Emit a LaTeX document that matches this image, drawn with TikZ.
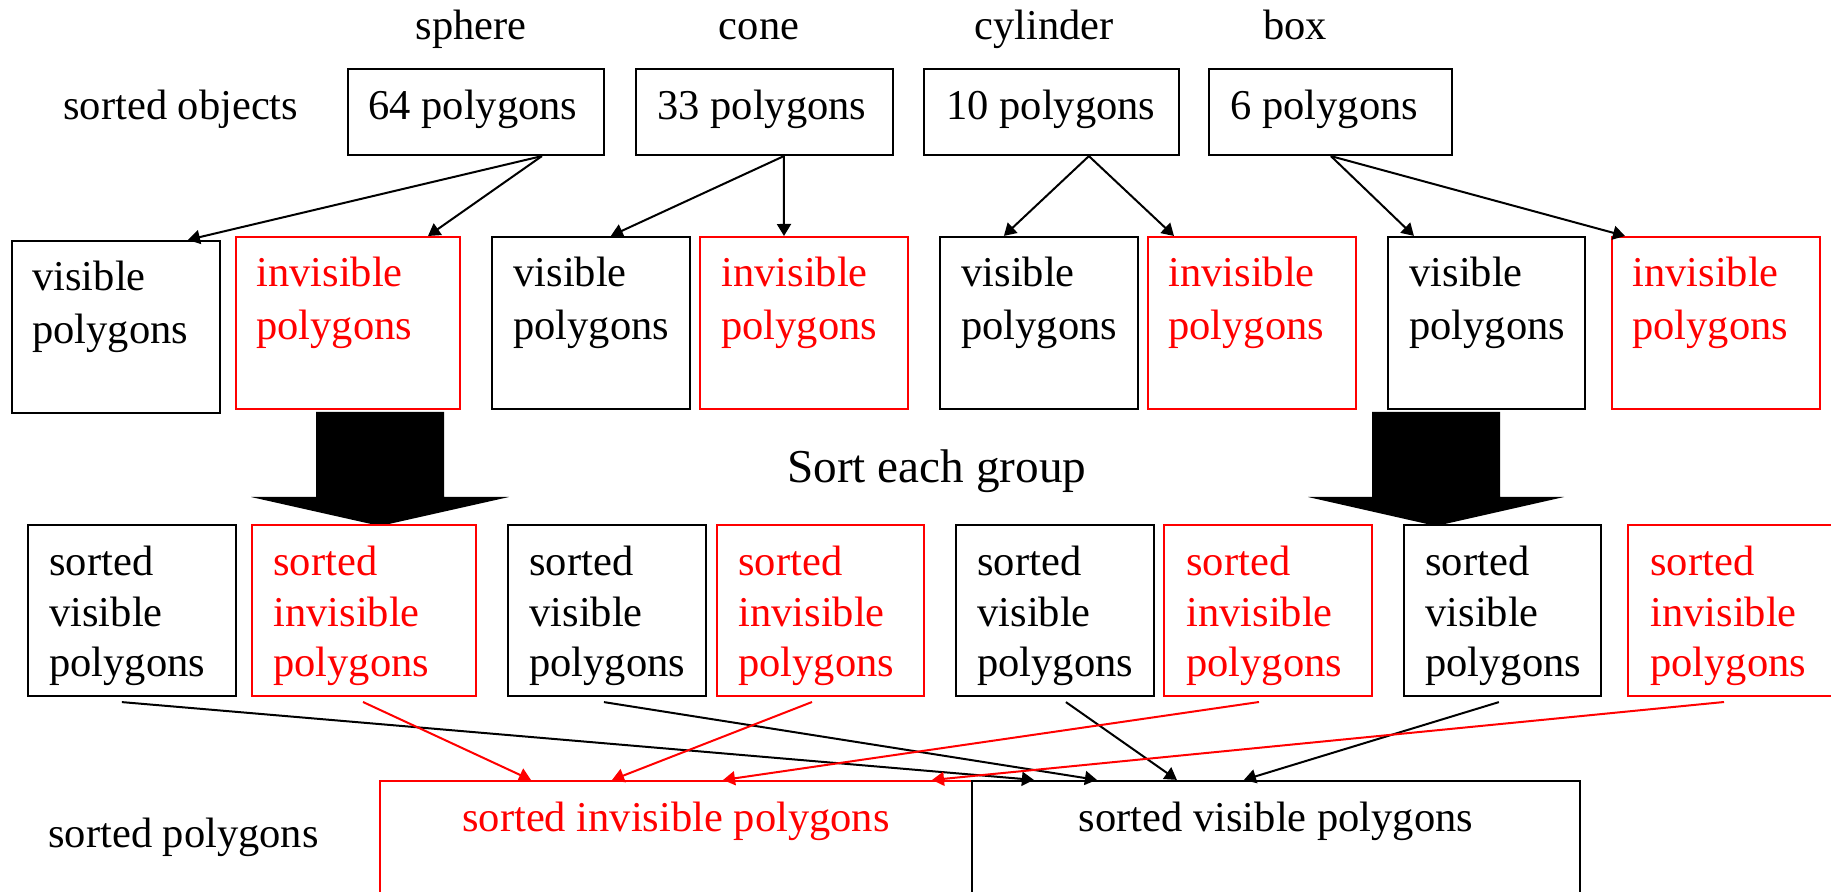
\documentclass[tikz,border=0pt]{standalone}
\usepackage{fontspec}
\setmainfont{Liberation Serif}
\usetikzlibrary{arrows.meta,calc}

% left-aligned stack of lines whose baseline is the first line's
\newcommand\stack[1]{\begin{tabular}[t]{@{}l@{}}#1\end{tabular}}
% empty framed box from (x1,y1) to (x2,y2): style, name, x1, y1, x2, y2
\newcommand\pbox[6]{\node[#1, minimum width={(#5-#3)*0.5pt}, minimum height={(#6-#4)*0.5pt}] (#2) at ({(#3+#5)/2},{(#4+#6)/2}) {};}

\begin{document}
\begin{tikzpicture}[x=0.5pt,y=-0.5pt,
  txt/.style={inner sep=0pt, font=\fontsize{21.25}{26.5}\selectfont},
  redtxt/.style={txt, text=red},
  tighttxt/.style={inner sep=0pt, font=\fontsize{21.25}{25.5}\selectfont},
  redtighttxt/.style={tighttxt, text=red},
  bigtxt/.style={inner sep=0pt, font=\fontsize{23.6}{28}\selectfont},
  blkbox/.style={draw=black, line width=1.1pt, inner sep=0pt},
  redbox/.style={draw=red, line width=1pt, inner sep=0pt},
  conn/.style={line width=1pt, -{Triangle[length=6pt,width=7pt]}},
  rconn/.style={conn, draw=red},
  bigarrow/.style={fill=black, draw=none}]

\useasboundingbox (0,0) rectangle (1831,892);
\clip (0,0) rectangle (1831,892);

% object names
\node[txt, anchor=base] (lsphere) at (471,40) {sphere};
\node[txt, anchor=base] (lcone) at (759,40) {cone};
\node[txt, anchor=base] (lcyl) at (1044,40) {cylinder};
\node[txt, anchor=base] (lbox) at (1295,40) {box};
\node[txt, anchor=base west] (lobj) at (63,120) {sorted objects};

% sorted objects
\pbox{blkbox}{o64}{348}{69}{604}{155}
\pbox{blkbox}{o33}{636}{69}{893}{155}
\pbox{blkbox}{o10}{924}{69}{1179}{155}
\pbox{blkbox}{o6}{1209}{69}{1452}{155}
\node[txt, anchor=base west] (t64) at (368,120) {64 polygons};
\node[txt, anchor=base west] (t33) at (657,120) {33 polygons};
\node[txt, anchor=base west] (t10) at (946,120) {10 polygons};
\node[txt, anchor=base west] (t6) at (1230,120) {6 polygons};

% visible / invisible groups
\pbox{blkbox}{v1}{12}{241}{220}{413}
\pbox{redbox}{i1}{236}{237}{460}{409}
\pbox{blkbox}{v2}{492}{237}{690}{409}
\pbox{redbox}{i2}{700}{237}{908}{409}
\pbox{blkbox}{v3}{940}{237}{1138}{409}
\pbox{redbox}{i3}{1148}{237}{1356}{409}
\pbox{blkbox}{v4}{1388}{237}{1585}{409}
\pbox{redbox}{i4}{1612}{237}{1820}{409}
\node[txt, anchor=base west] (v1t) at (32,291) {\stack{visible\\polygons}};
\node[redtxt, anchor=base west] (i1t) at (256,287) {\stack{invisible\\polygons}};
\node[txt, anchor=base west] (v2t) at (513,287) {\stack{visible\\polygons}};
\node[redtxt, anchor=base west] (i2t) at (721,287) {\stack{invisible\\polygons}};
\node[txt, anchor=base west] (v3t) at (961,287) {\stack{visible\\polygons}};
\node[redtxt, anchor=base west] (i3t) at (1168,287) {\stack{invisible\\polygons}};
\node[txt, anchor=base west] (v4t) at (1409,287) {\stack{visible\\polygons}};
\node[redtxt, anchor=base west] (i4t) at (1632,287) {\stack{invisible\\polygons}};

% splitting each object
\draw[conn] ($(o64.south west)+(195,0)$) -- ($(v1.north west)+(177,0)$);
\draw[conn] ($(o64.south west)+(195,0)$) -- ($(i1.north west)+(193,0)$);
\draw[conn] ($(o33.south west)+(149,0)$) -- ($(v2.north west)+(120,0)$);
\draw[conn] ($(o33.south west)+(149,0)$) -- ($(i2.north west)+(85,0)$);
\draw[conn] ($(o10.south west)+(166,0)$) -- ($(v3.north west)+(65,0)$);
\draw[conn] ($(o10.south west)+(166,0)$) -- ($(i3.north west)+(27,0)$);
\draw[conn] ($(o6.south west)+(123,0)$) -- ($(v4.north west)+(27,0)$);
\draw[conn] ($(o6.south west)+(123,0)$) -- ($(i4.north west)+(14,0)$);

% block arrows
\fill[bigarrow] (316,412) -- (444,412) -- (444,497) -- (509,497) -- (380,526) -- (251,497) -- (316,497) -- cycle;
\fill[bigarrow] (1372,412) -- (1500,412) -- (1500,497) -- (1564,497) -- (1436,526) -- (1308,497) -- (1372,497) -- cycle;
\node[bigtxt, anchor=base west] (sortlbl) at (787,483) {Sort each group};

% sorted groups
\pbox{blkbox}{sv1}{28}{525}{236}{696}
\pbox{redbox}{si1}{252}{525}{476}{696}
\pbox{blkbox}{sv2}{508}{525}{706}{696}
\pbox{redbox}{si2}{717}{525}{924}{696}
\pbox{blkbox}{sv3}{956}{525}{1154}{696}
\pbox{redbox}{si3}{1164}{525}{1372}{696}
\pbox{blkbox}{sv4}{1404}{525}{1601}{696}
\pbox{redbox}{si4}{1628}{525}{1836}{696}
\node[tighttxt, anchor=base west] (sv1t) at (49,575) {\stack{sorted\\visible\\polygons}};
\node[redtighttxt, anchor=base west] (si1t) at (273,575) {\stack{sorted\\invisible\\polygons}};
\node[tighttxt, anchor=base west] (sv2t) at (529,575) {\stack{sorted\\visible\\polygons}};
\node[redtighttxt, anchor=base west] (si2t) at (738,575) {\stack{sorted\\invisible\\polygons}};
\node[tighttxt, anchor=base west] (sv3t) at (977,575) {\stack{sorted\\visible\\polygons}};
\node[redtighttxt, anchor=base west] (si3t) at (1186,575) {\stack{sorted\\invisible\\polygons}};
\node[tighttxt, anchor=base west] (sv4t) at (1425,575) {\stack{sorted\\visible\\polygons}};
\node[redtighttxt, anchor=base west] (si4t) at (1650,575) {\stack{sorted\\invisible\\polygons}};

% merged lists
\node[txt, anchor=base west] (lpoly) at (48,847) {sorted polygons};
\pbox{redbox}{sip}{380}{781}{972}{1000}
\pbox{blkbox}{svp}{972}{781}{1580}{1000}
\node[redtxt, anchor=base] (sipt) at (676,831) {sorted invisible polygons};
\node[txt, anchor=base] (svpt) at (1276,831) {sorted visible polygons};

% merging visible lists
\draw[conn] ($(sv1.south west)+(95,5)$) -- ($(svp.north west)+(63,0)$);
\draw[conn] ($(sv2.south west)+(97,5)$) -- ($(svp.north west)+(126,0)$);
\draw[conn] ($(sv3.south west)+(111,5)$) -- ($(svp.north west)+(206,0)$);
\draw[conn] ($(sv4.south west)+(96,5)$) -- ($(svp.north west)+(273,0)$);
% merging invisible lists
\draw[rconn] ($(si1.south west)+(112,5)$) -- ($(sip.north west)+(152,0)$);
\draw[rconn] ($(si2.south west)+(96,5)$) -- ($(sip.north west)+(233,0)$);
\draw[rconn] ($(si3.south west)+(96,5)$) -- ($(sip.north west)+(344,0)$);
\draw[rconn] ($(si4.south west)+(97,5)$) -- ($(sip.north west)+(553,0)$);
\end{tikzpicture}
\end{document}
